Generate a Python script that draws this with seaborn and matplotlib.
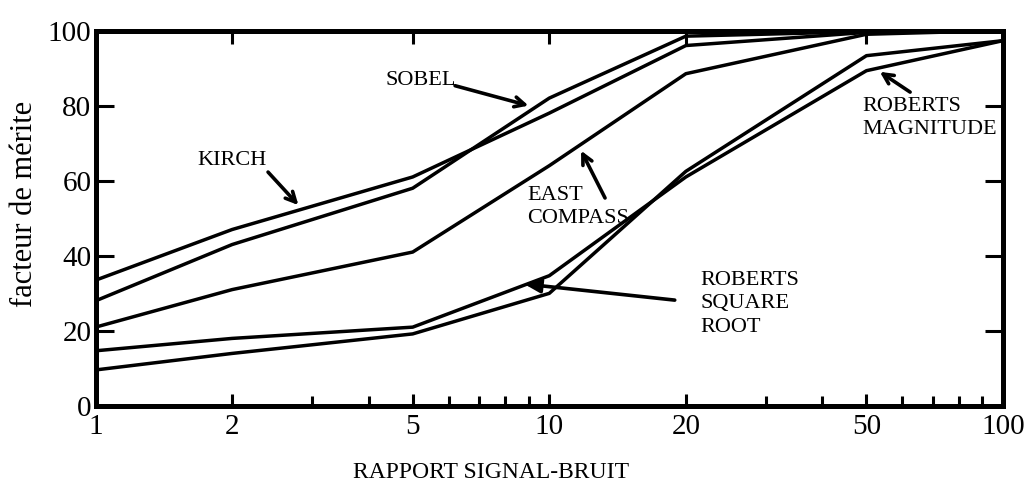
import matplotlib
matplotlib.use("Agg")
import matplotlib.pyplot as plt
import numpy as np
import pandas as pd
import seaborn as sns

# Signal-to-noise ratios and figure of merit for each edge detector
snr = [1, 2, 5, 10, 20, 50, 100]
kirch = [33.5, 47, 61, 78, 96, 99.5, 100]
sobel = [28, 43, 58, 82, 98.5, 99.7, 100]
east_compass = [21, 31, 41, 64, 88.5, 99, 100]
roberts_magnitude = [14.7, 18, 21, 34.7, 61, 89.3, 97.3]
roberts_square_root = [9.6, 14, 19.2, 30, 62.5, 93.3, 97.3]

methods = ["KIRCH", "SOBEL", "EAST COMPASS", "ROBERTS MAGNITUDE", "ROBERTS SQUARE ROOT"]
series = [kirch, sobel, east_compass, roberts_magnitude, roberts_square_root]

x_major = [1, 2, 5, 10, 20, 50, 100]
x_major_labels = ["1", "2", "5", "10", "20", "50", "100"]
x_minor = [3, 4, 6, 7, 8, 9, 30, 40, 60, 70, 80, 90]
y_ticks = [0, 20, 40, 60, 80, 100]

df = pd.DataFrame({
    "snr": snr * len(series),
    "merit": [v for s in series for v in s],
    "method": [m for m, s in zip(methods, series) for _ in s],
})

sns.set_theme(style="white")
plt.rcParams["font.family"] = ["Liberation Serif", "DejaVu Serif"]
plt.rcParams["text.color"] = "black"
plt.rcParams["axes.labelcolor"] = "black"
plt.rcParams["xtick.color"] = "black"
plt.rcParams["ytick.color"] = "black"

fig = plt.figure(figsize=(10.36, 4.97), dpi=100)
ax = fig.add_axes([0.0922, 0.1831, 0.876, 0.7555])

sns.lineplot(data=df, x="snr", y="merit", units="method", estimator=None,
             color="black", lw=2.5, ax=ax, legend=False)

ax.set_xscale("log")
ax.set_xlim(1, 100)
ax.set_ylim(0, 100)
ax.set_xticks(x_major, x_major_labels)
ax.set_xticks(x_minor, minor=True)
ax.xaxis.set_minor_formatter(matplotlib.ticker.NullFormatter())
ax.set_yticks(y_ticks, [str(v) for v in y_ticks])
ax.set_xlabel("")
ax.set_ylabel("")

for sp in ax.spines.values():
    sp.set_visible(True)
    sp.set_linewidth(3.6)
    sp.set_color("black")

ax.tick_params(axis="x", which="major", direction="in", length=9, width=2.2,
               top=True, bottom=True, pad=6, labelsize=21,
               colors="black", labelcolor="black")
ax.tick_params(axis="x", which="minor", direction="in", length=7.5, width=2.2,
               top=False, bottom=True, colors="black")
ax.tick_params(axis="y", which="major", direction="in", length=13, width=2.2,
               left=True, right=True, pad=3, labelsize=21,
               colors="black", labelcolor="black")

fig.text(25 / 1036, 1 - 204 / 497, "facteur de mérite", rotation=90,
         ha="center", va="center", fontsize=22, color="black")
fig.text(491 / 1036, 1 - 473 / 497, "RAPPORT SIGNAL-BRUIT",
         ha="center", va="center", fontsize=17, color="black")

txt = dict(fontsize=16, color="black")
open_head = dict(arrowstyle="->,head_length=0.6,head_width=0.3", lw=2.6,
                 color="black", shrinkA=0, shrinkB=0)
filled_head = dict(arrowstyle="-|>,head_length=0.8,head_width=0.35", lw=2.6,
                   color="black", shrinkA=0, shrinkB=0)

ax.text(4.35, 86.8, "SOBEL", ha="left", va="center", **txt)
ax.annotate("", xy=(9.0, 80.0), xytext=(6.2, 85.3), arrowprops=open_head)

ax.text(1.68, 65.5, "KIRCH", ha="left", va="center", **txt)
ax.annotate("", xy=(2.8, 53.5), xytext=(2.4, 62.3), arrowprops=open_head)

ax.text(8.93, 52.9, "EAST\nCOMPASS", ha="left", va="center",
        linespacing=1.3, **txt)
ax.annotate("", xy=(11.75, 68.0), xytext=(13.27, 55.4), arrowprops=open_head)

ax.text(21.5, 27.2, "ROBERTS\nSQUARE\nROOT", ha="left", va="center",
        linespacing=1.3, **txt)
ax.annotate("", xy=(8.8, 32.5), xytext=(18.9, 28.2), arrowprops=filled_head)

ax.text(48.9, 76.7, "ROBERTS\nMAGNITUDE", ha="left", va="center",
        linespacing=1.3, **txt)
ax.annotate("", xy=(53.5, 89.0), xytext=(62.4, 83.6), arrowprops=open_head)

fig.savefig("out.png", dpi=100)
